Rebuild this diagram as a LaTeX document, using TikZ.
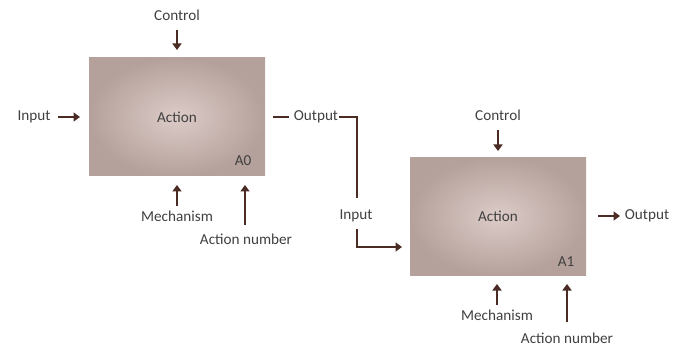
\documentclass[tikz,border=0pt]{standalone}
\usepackage{fontspec}
\setmainfont{Carlito}
\usetikzlibrary{arrows.meta}
\definecolor{txt}{HTML}{404040}
\definecolor{arrc}{HTML}{4A2C24}
\definecolor{boxin}{HTML}{DCCBC7}
\definecolor{boxout}{HTML}{B5A19C}
\tikzset{
  lbl/.style={text=txt, font=\fontsize{15.2}{17}\selectfont, inner sep=1pt},
  actbox/.style={minimum width=176pt, minimum height=118pt, inner sep=0pt,
    shading=radial, inner color=boxin, outer color=boxout, text=txt,
    font=\fontsize{15.2}{17}\selectfont},
  arr/.style={draw=arrc, line width=2.8pt, -{Triangle[length=6.5pt,width=9pt]}},
  ln/.style={draw=arrc, line width=2.8pt}
}
\begin{document}
\begin{tikzpicture}[x=1pt,y=-1pt]
\useasboundingbox (0,0) rectangle (682,347);
% boxes
\node[actbox] (a0) at (177,117) {Action};
\node[actbox] (a1) at (498,216.5) {Action};
\node[lbl] (n0) at (243,161) {A0};
\node[lbl] (n1) at (566,262) {A1};
% A0 labels
\node[lbl] (c0) at (177,15) {Control};
\node[lbl] (in0) at (34,117) {Input};
\node[lbl,inner sep=0.5pt] (o0) at (316,117) {Output};
\node[lbl] (m0) at (177,216) {Mechanism};
\node[lbl] (an0) at (246,239) {Action number};
% A1 labels
\node[lbl] (c1) at (498,115) {Control};
\node[lbl] (in1) at (356,216) {Input};
\node[lbl] (o1) at (647,216) {Output};
\node[lbl] (m1) at (497,315) {Mechanism};
\node[lbl] (an1) at (567,338) {Action number};
% coordinates
\coordinate (c0s) at (177,30);
\coordinate (c0e) at (177,50);
\coordinate (i0s) at (58,117);
\coordinate (i0e) at (80,117);
\coordinate (o0s) at (273,117);
\coordinate (k1) at (357,117);
\coordinate (k2) at (357,198);
\coordinate (k3) at (357,229);
\coordinate (k4) at (357,247);
\coordinate (k5) at (402,247);
\coordinate (m0s) at (177,206);
\coordinate (m0e) at (177,185);
\coordinate (an0s) at (245,225);
\coordinate (an0e) at (245,185);
\coordinate (c1s) at (498,130);
\coordinate (c1e) at (498,151);
\coordinate (o1s) at (598,216);
\coordinate (o1e) at (620,216);
\coordinate (m1s) at (497,305);
\coordinate (m1e) at (497,284);
\coordinate (an1s) at (567,322);
\coordinate (an1e) at (567,284);
% connectors
\draw[arr] (c0s) -- (c0e);
\draw[arr] (i0s) -- (i0e);
\draw[ln] (o0s) -- ([xshift=-4pt]o0.west);
\draw[ln] (o0.east) -- (k1) -- (k2);
\draw[arr] (k3) -- (k4) -- (k5);
\draw[arr] (m0s) -- (m0e);
\draw[arr] (an0s) -- (an0e);
\draw[arr] (c1s) -- (c1e);
\draw[arr] (o1s) -- (o1e);
\draw[arr] (m1s) -- (m1e);
\draw[arr] (an1s) -- (an1e);
\end{tikzpicture}
\end{document}
